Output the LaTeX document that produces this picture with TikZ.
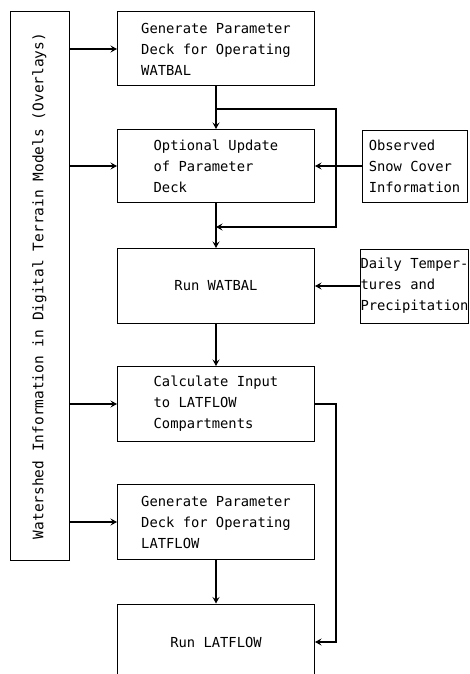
\documentclass[tikz,border=0pt]{standalone}
\usepackage{fontspec}
\setmonofont{DejaVu Sans Mono}
\usetikzlibrary{arrows.meta}

\begin{document}
\begin{tikzpicture}[x=1pt, y=-1pt, line width=1pt,
	box/.style={draw, rectangle, inner sep=0pt, minimum width=197pt, align=left, font=\ttfamily\fontsize{13.8}{21}\selectfont},
	side/.style={box, minimum width=105pt},
	flow/.style={-{Stealth[length=6.5pt, width=7pt, inset=2.5pt]}, line width=1.6pt}]
		\useasboundingbox (0,0) rectangle (470,674);
		
		\node[draw, rotate=90, minimum width=548pt, minimum height=59pt, inner sep=0pt, font=\ttfamily\fontsize{14.5}{17}\selectfont] (bar) at (39.5,286) {Watershed Information in Digital Terrain Models (Overlays)};
		
		\node[box, minimum height=74pt] (gen1) at (216,49) {Generate Parameter\\Deck for Operating\\WATBAL};
		\node[box, minimum height=73pt] (upd) at (216,166) {Optional Update\\of Parameter\\Deck};
		\node[box, minimum height=75pt] (run1) at (216,286) {Run WATBAL};
		\node[box, minimum height=75pt] (calc) at (216,404) {Calculate Input\\to LATFLOW\\Compartments};
		\node[box, minimum height=75pt] (gen2) at (216,522) {Generate Parameter\\Deck for Operating\\LATFLOW};
		\node[box, minimum height=76pt] (run2) at (216,642) {Run LATFLOW};
		
		\node[side, minimum height=72pt] (snow) at (414.5,166) {Observed\\Snow Cover\\Information};
		\node[side, minimum height=74pt] (daily) at (414.5,286) {Daily Temper-\\tures and\\Precipitation};
		
		\foreach \b in {gen1, upd, calc, gen2}
		{
			\draw[flow] (bar.south |- \b.west) -- (\b.west);
		}
		
		\coordinate (split) at (216,109);
		\coordinate (join) at (216,227);
		\coordinate (loopa) at (336,109);
		\coordinate (loopb) at (336,227);
		\coordinate (loopc) at (336,404);
		\coordinate (loopd) at (336,642);
		
		\draw[flow] (gen1) -- (upd);
		\draw[flow] (split) -- (loopa) -- (loopb) -- (join);
		\draw[flow] (upd) -- (run1);
		\draw[flow] (snow.west) -- (snow.west -| upd.east);
		\draw[flow] (daily.west) -- (daily.west -| run1.east);
		\draw[flow] (run1) -- (calc);
		\draw[flow] (calc.east) -- (loopc) -- (loopd) -- (run2.east);
		\draw[flow] (gen2) -- (run2);
	\end{tikzpicture}
\end{document}
